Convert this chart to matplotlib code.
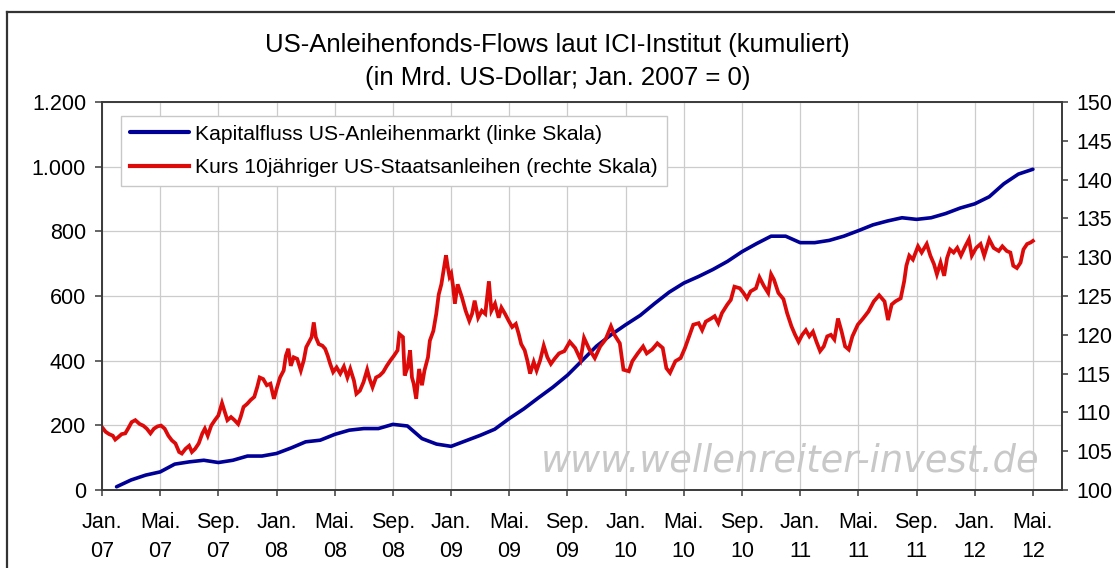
import numpy as np
import matplotlib.pyplot as plt
from matplotlib.ticker import FuncFormatter
from matplotlib.lines import Line2D

plt.rcParams['font.family'] = ['Liberation Sans', 'DejaVu Sans']

# Monate seit Jan. 2007 (0 = Jan. 07)
flow_monat = np.arange(1, 65)
# kumulierte Flows US-Anleihenfonds, Mrd. US-Dollar (linke Skala)
flow_kum = [10, 31, 46, 56, 80, 87, 92, 85, 92, 105, 105, 113, 130, 149, 154, 172,
            185, 190, 190, 203, 198, 159, 142, 135, 152, 169, 188, 221, 251, 285, 318, 355,
            400, 445, 480, 511, 540, 577, 612, 640, 660, 682, 707, 737, 762, 785, 785, 765,
            765, 772, 785, 802, 820, 832, 842, 837, 842, 855, 872, 885, 907, 947, 977, 992]

# Kurs 10jaehriger US-Staatsanleihen (rechte Skala)
kurs_monat = [0.00, 0.25, 0.49, 0.74, 0.91, 1.11, 1.35, 1.60, 1.85, 2.04, 2.29, 2.59, 2.83, 3.08,
              3.33, 3.57, 3.82, 4.06, 4.31, 4.56, 4.80, 5.05, 5.30, 5.49, 5.74, 5.99, 6.18, 6.40,
              6.65, 6.90, 7.07, 7.27, 7.51, 7.76, 8.00, 8.25, 8.45, 8.62, 8.87, 9.11, 9.36, 9.53,
              9.73, 9.98, 10.22, 10.47, 10.67, 10.84, 11.08, 11.33, 11.58, 11.82, 12.00, 12.24,
              12.49, 12.64, 12.81, 12.98, 13.18, 13.42, 13.67, 13.87, 14.04, 14.21, 14.41, 14.56,
              14.70, 14.90, 15.15, 15.34, 15.52, 15.69, 15.89, 16.13, 16.38, 16.63, 16.87, 17.07,
              17.32, 17.49, 17.73, 17.98, 18.23, 18.40, 18.60, 18.84, 19.09, 19.33, 19.58, 19.83,
              20.07, 20.32, 20.44, 20.69, 20.81, 21.01, 21.18, 21.31, 21.43, 21.60, 21.80, 22.00,
              22.17, 22.41, 22.54, 22.78, 22.98, 23.15, 23.33, 23.52, 23.65, 23.77, 23.89, 24.01,
              24.14, 24.26, 24.45, 24.75, 25.00, 25.25, 25.44, 25.62, 25.86, 26.11, 26.35, 26.60,
              26.77, 27.02, 27.27, 27.46, 27.71, 27.96, 28.20, 28.45, 28.65, 28.82, 29.06, 29.24,
              29.43, 29.68, 29.88, 30.12, 30.37, 30.62, 30.86, 31.11, 31.42, 31.79, 32.16, 32.53,
              32.90, 33.14, 33.51, 33.88, 34.25, 34.62, 34.99, 35.23, 35.60, 35.85, 36.22, 36.46,
              36.83, 37.20, 37.45, 37.82, 38.18, 38.55, 38.80, 39.05, 39.42, 39.78, 40.08, 40.40,
              40.65, 41.02, 41.26, 41.51, 41.88, 42.12, 42.37, 42.62, 42.99, 43.23, 43.48, 43.85,
              44.10, 44.34, 44.59, 44.96, 45.20, 45.50, 45.80, 46.00, 46.20, 46.50, 46.85, 47.10,
              47.40, 47.65, 47.89, 48.14, 48.39, 48.63, 48.88, 49.12, 49.37, 49.62, 49.86, 50.11,
              50.35, 50.60, 50.85, 51.09, 51.34, 51.59, 51.96, 52.32, 52.69, 53.06, 53.43, 53.80,
              54.04, 54.29, 54.54, 54.91, 55.15, 55.30, 55.50, 55.75, 56.10, 56.35, 56.70, 56.95,
              57.20, 57.40, 57.65, 57.90, 58.10, 58.30, 58.55, 58.80, 59.05, 59.35, 59.60, 59.80,
              60.10, 60.40, 60.65, 61.00, 61.30, 61.65, 61.90, 62.20, 62.45, 62.65, 62.90, 63.15,
              63.35, 63.60, 63.85, 64.00]
kurs_wert = [108.1, 107.5, 107.2, 107.0, 106.5, 106.8, 107.2, 107.3, 108.1, 108.75, 109.0, 108.5,
             108.3, 107.9, 107.3, 107.9, 108.2, 108.3, 107.9, 107.0, 106.4, 106.0, 104.9, 104.7,
             105.3, 105.7, 104.9, 105.3, 106.0, 107.3, 107.9, 107.0, 108.3, 109.0, 109.6, 111.2,
             110.0, 109.0, 109.4, 109.0, 108.5, 109.4, 110.7, 111.1, 111.6, 112.0, 113.25, 114.5,
             114.3, 113.5, 113.7, 111.75, 113.0, 114.5, 115.4, 117.3, 118.2, 116.0, 117.1, 116.9,
             115.4, 116.7, 118.4, 119.0, 119.7, 121.6, 119.7, 118.8, 118.6, 118.2, 117.3, 116.25,
             115.2, 115.8, 115.0, 115.9, 114.5, 115.6, 114.1, 112.4, 112.8, 113.9, 115.5, 114.3,
             113.25, 114.5, 114.75, 115.2, 116.0, 116.7, 117.3, 118.0, 120.1, 119.7, 114.75, 115.8,
             118.0, 114.5, 113.7, 111.75, 115.6, 113.5, 115.4, 117.1, 119.25, 120.5, 122.7, 125.2,
             126.5, 128.75, 130.25, 128.75, 127.5, 127.9, 126.2, 124.0, 126.5, 124.8, 123.1, 121.8,
             122.7, 124.4, 122.2, 123.1, 122.7, 126.9, 123.1, 124.0, 122.2, 123.5, 122.7, 121.8,
             121.0, 121.4, 120.1, 118.8, 118.0, 116.7, 115.0, 116.5, 115.4, 116.7, 118.6, 117.1,
             116.25, 116.9, 117.6, 117.9, 119.1, 118.3, 116.8, 119.6, 118.1, 117.0, 118.5, 119.4,
             121.1, 120.0, 118.9, 115.5, 115.3, 116.6, 117.6, 118.5, 117.6, 118.1, 118.9, 118.3,
             115.7, 115.1, 116.6, 117.0, 118.3, 120.0, 121.3, 121.5, 120.6, 121.7, 122.1, 122.4,
             121.5, 122.8, 123.9, 124.5, 126.2, 126.0, 125.4, 124.7, 125.6, 126.0, 127.4, 126.3,
             125.4, 127.8, 127.1, 125.4, 124.6, 122.8, 121.1, 120.0, 119.1, 120.0, 120.6, 119.8,
             120.4, 119.1, 117.9, 118.5, 119.8, 120.0, 119.4, 122.1, 120.4, 118.5, 118.1, 119.8,
             121.3, 122.1, 123.0, 124.3, 125.1, 124.3, 121.9, 123.9, 124.3, 124.7, 126.9, 128.9,
             130.2, 129.7, 131.4, 130.6, 131.7, 130.2, 129.1, 127.8, 129.3, 127.6, 129.9, 131.0,
             130.6, 131.2, 130.2, 131.4, 132.3, 130.2, 131.2, 131.7, 130.2, 132.3, 131.2, 130.8,
             131.4, 130.8, 130.6, 128.9, 128.6, 129.3, 131.0, 131.7, 131.9, 132.1]

tick_monat = np.arange(0, 65, 4)
tick_text = ['Jan.\n07', 'Mai.\n07', 'Sep.\n07', 'Jan.\n08', 'Mai.\n08', 'Sep.\n08',
             'Jan.\n09', 'Mai.\n09', 'Sep.\n09', 'Jan.\n10', 'Mai.\n10', 'Sep.\n10',
             'Jan.\n11', 'Mai.\n11', 'Sep.\n11', 'Jan.\n12', 'Mai.\n12']

W, H = 1115, 568
fig = plt.figure(figsize=(W / 100, H / 100), dpi=100)
ax = fig.add_axes([102 / W, 1 - 490 / H, (1062 - 102) / W, (490 - 102) / H])
ax2 = ax.twinx()

blau = '#000096'
rot = '#DD0A0A'
achse = '#3a3a3a'

l1, = ax.plot(flow_monat, flow_kum, color=blau, lw=2.6, solid_capstyle='round',
              label='Kapitalfluss US-Anleihenmarkt (linke Skala)')
l2, = ax2.plot(kurs_monat, kurs_wert, color=rot, lw=2.7, solid_joinstyle='miter',
               label='Kurs 10jähriger US-Staatsanleihen (rechte Skala)')

ax.set_xlim(0, 66)
ax.set_ylim(0, 1200)
ax2.set_ylim(100, 150)
ax.set_yticks(np.arange(0, 1201, 200))
ax2.set_yticks(np.arange(100, 151, 5))
ax.yaxis.set_major_formatter(FuncFormatter(lambda v, p: f'{int(v):,}'.replace(',', '.')))
ax.set_xticks(tick_monat)
ax.set_xticklabels(tick_text, linespacing=1.55)

ax.grid(True, color='#cccccc', lw=0.9)
ax.set_axisbelow(True)

for a in (ax, ax2):
    for s in a.spines.values():
        s.set_color(achse)
        s.set_linewidth(1.2)
ax.tick_params(axis='x', length=4.5, width=1.1, color=achse, pad=11, labelsize=15.5)
ax.tick_params(axis='y', length=5, width=1.1, color=achse, pad=6.5, labelsize=15.5)
ax2.tick_params(axis='y', length=4.3, width=1.1, color=achse, pad=6, labelsize=15.5)

fig.text(0.5, 1 - 45 / H, 'US-Anleihenfonds-Flows laut ICI-Institut (kumuliert)',
         ha='center', va='center', fontsize=18.5)
fig.text(0.5, 1 - 78 / H, '(in Mrd. US-Dollar; Jan. 2007 = 0)',
         ha='center', va='center', fontsize=18.5)

fig.text(541 / W, 1 - 472 / H, 'www.wellenreiter-invest.de', ha='left', va='baseline',
         fontsize=26.5, style='italic', color='#c8c8c8', family='DejaVu Sans', zorder=0)

leg = ax2.legend(handles=[l1, l2], loc='upper left', bbox_to_anchor=(121 / W, 1 - 116 / H),
                 bbox_transform=fig.transFigure, borderaxespad=0, fontsize=15.2,
                 fancybox=False, framealpha=1, edgecolor='#c8c8c8', handlelength=2.8,
                 handletextpad=0.3, labelspacing=0.68, borderpad=0.42)
leg.get_frame().set_linewidth(1.0)
for h in leg.get_lines():
    h.set_linewidth(3.0)

# Rahmen um das Diagramm
fig.add_artist(Line2D([7 / W, 1], [1 - 12 / H, 1 - 12 / H], transform=fig.transFigure,
                      color='#333333', lw=1.6))
fig.add_artist(Line2D([7 / W, 7 / W], [0, 1 - 12 / H], transform=fig.transFigure,
                      color='#333333', lw=1.6))

fig.savefig('out.png', dpi=100)
